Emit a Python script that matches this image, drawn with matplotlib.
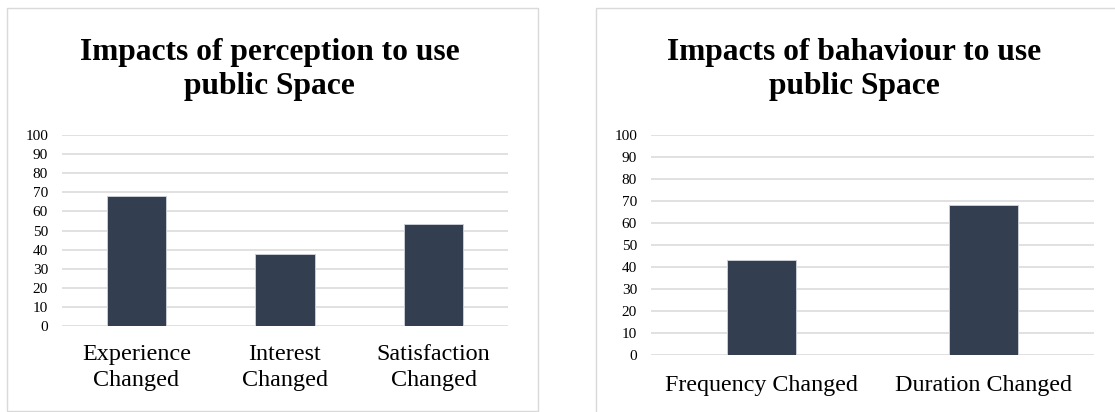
import matplotlib
matplotlib.use("Agg")
import matplotlib.pyplot as plt
from matplotlib.patches import Rectangle

# Data
perception_categories = ["Experience\nChanged", "Interest\nChanged", "Satisfaction\nChanged"]
perception_values = [68, 37.5, 53.3]
behaviour_categories = ["Frequency Changed", "Duration Changed"]
behaviour_values = [43.3, 68]
y_ticks = list(range(0, 101, 10))

perception_title = "Impacts of perception to use\npublic Space"
behaviour_title = "Impacts of bahaviour to use\npublic Space"

BAR_COLOR = "#333f50"
GRID_COLOR = "#d9d9d9"
FONT = "Liberation Serif"

W, H = 1115, 412
fig = plt.figure(figsize=(W / 100, H / 100), dpi=100)
fig.patch.set_facecolor("white")


def px_box(x0, y_top, x1, y_bottom):
    """Convert a pixel box (origin top-left) into figure fractions."""
    return [x0 / W, 1 - y_bottom / H, (x1 - x0) / W, (y_bottom - y_top) / H]


# Chart frames
fig.add_artist(Rectangle((7 / W, 1 - 411 / H), (538 - 7) / W, (411 - 8) / H,
                         transform=fig.transFigure, fill=False,
                         edgecolor=GRID_COLOR, linewidth=1.0))
fig.add_artist(Rectangle((596 / W, -0.2), 0.6, 1.2 - 8 / H,
                         transform=fig.transFigure, fill=False,
                         edgecolor=GRID_COLOR, linewidth=1.0))


def style_axis(ax, cat_size, pad):
    ax.set_ylim(0, 100)
    ax.set_yticks(y_ticks)
    ax.yaxis.grid(True, color=GRID_COLOR, linewidth=1.1)
    ax.set_axisbelow(True)
    for s in ax.spines.values():
        s.set_visible(False)
    ax.tick_params(axis="y", length=0, pad=10, labelsize=11)
    ax.tick_params(axis="x", length=0, pad=pad, labelsize=cat_size)
    for lab in ax.get_yticklabels():
        lab.set_fontfamily(FONT)
    for lab in ax.get_xticklabels():
        lab.set_fontfamily(FONT)
        lab.set_linespacing(1.3)


# Left chart
ax1 = fig.add_axes(px_box(62, 135.3, 508, 325.7))
x1 = range(len(perception_categories))
ax1.bar(x1, perception_values, width=0.4, color=BAR_COLOR,
        edgecolor="#c9ced6", linewidth=0.7, zorder=3)
ax1.set_xlim(-0.5, len(perception_categories) - 0.5)
ax1.set_xticks(list(x1))
ax1.set_xticklabels(perception_categories)
style_axis(ax1, 17.4, 13)

# Right chart
ax2 = fig.add_axes(px_box(651, 135.3, 1094, 354.5))
x2 = range(len(behaviour_categories))
ax2.bar(x2, behaviour_values, width=0.31, color=BAR_COLOR,
        edgecolor="#c9ced6", linewidth=0.7, zorder=3)
ax2.set_xlim(-0.5, len(behaviour_categories) - 0.5)
ax2.set_xticks(list(x2))
ax2.set_xticklabels(behaviour_categories)
style_axis(ax2, 17.3, 15)

# Titles (baseline of the last line is anchored)
fig.text(269.5 / W, 1 - 94 / H, perception_title, ha="center", va="baseline",
         fontsize=22.7, fontweight="bold", family=FONT, linespacing=1.24)
fig.text(854 / W, 1 - 94 / H, behaviour_title, ha="center", va="baseline",
         fontsize=22.7, fontweight="bold", family=FONT, linespacing=1.24)

fig.savefig("out.png", dpi=100, facecolor="white")
